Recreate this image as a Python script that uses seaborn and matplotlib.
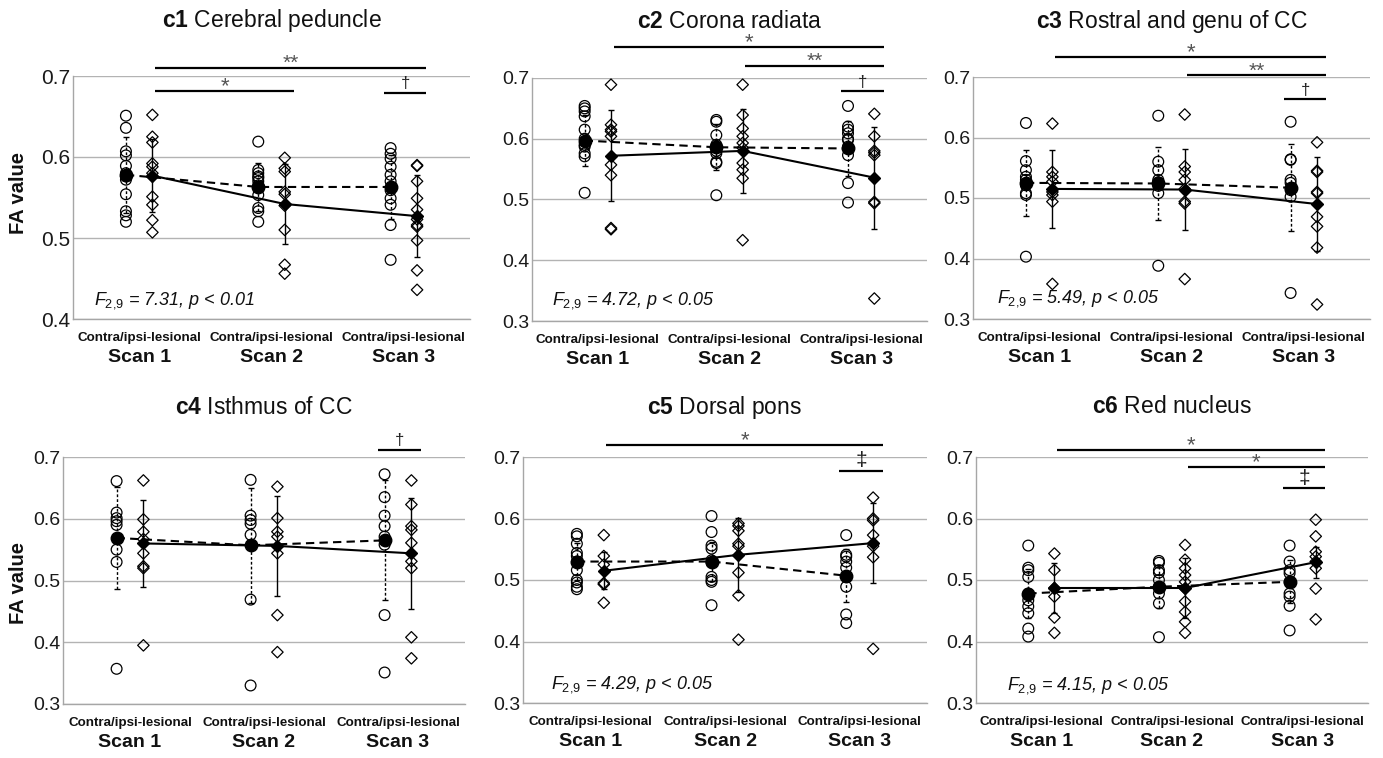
import matplotlib
matplotlib.use("Agg")
import matplotlib.pyplot as plt
import seaborn as sns
import pandas as pd

W, H = 1383, 758

scans = ["Scan 1", "Scan 2", "Scan 3"]
side_text = "Contra/ipsi-lesional"

# ---------------- c1 Cerebral peduncle
c1_contra = [[0.651, 0.636, 0.607, 0.602, 0.589, 0.580, 0.576, 0.572, 0.554, 0.533, 0.528, 0.520],
             [0.619, 0.584, 0.580, 0.576, 0.574, 0.570, 0.565, 0.553, 0.537, 0.533, 0.520],
             [0.611, 0.604, 0.598, 0.588, 0.578, 0.570, 0.559, 0.549, 0.541, 0.516, 0.473]]
c1_ipsi = [[0.652, 0.625, 0.618, 0.592, 0.588, 0.580, 0.576, 0.551, 0.541, 0.522, 0.507],
           [0.599, 0.586, 0.582, 0.557, 0.554, 0.540, 0.510, 0.467, 0.456],
           [0.590, 0.589, 0.570, 0.549, 0.535, 0.523, 0.516, 0.514, 0.497, 0.460, 0.436]]
c1_contra_mean = [0.578, 0.563, 0.563]
c1_contra_sd = [0.047, 0.030, 0.040]
c1_ipsi_mean = [0.577, 0.542, 0.527]
c1_ipsi_sd = [0.045, 0.049, 0.051]
c1_stat = "7.31, p < 0.01"
c1_sig = [((0, "ipsi"), (2, "ipsi"), "**"), ((0, "ipsi"), (1, "ipsi"), "*"), ((2, "contra"), (2, "ipsi"), "\u2020")]

# ---------------- c2 Corona radiata
c2_contra = [[0.654, 0.650, 0.645, 0.637, 0.615, 0.600, 0.590, 0.587, 0.576, 0.571, 0.511],
             [0.631, 0.628, 0.606, 0.590, 0.587, 0.580, 0.576, 0.562, 0.560, 0.507],
             [0.654, 0.620, 0.615, 0.609, 0.600, 0.598, 0.587, 0.573, 0.527, 0.495]]
c2_ipsi = [[0.689, 0.623, 0.615, 0.612, 0.604, 0.557, 0.540, 0.453, 0.451],
           [0.689, 0.639, 0.617, 0.604, 0.593, 0.585, 0.560, 0.549, 0.535, 0.433],
           [0.641, 0.604, 0.580, 0.577, 0.573, 0.496, 0.494, 0.337]]
c2_contra_mean = [0.597, 0.586, 0.584]
c2_contra_sd = [0.042, 0.038, 0.045]
c2_ipsi_mean = [0.572, 0.580, 0.536]
c2_ipsi_sd = [0.075, 0.069, 0.084]
c2_stat = "4.72, p < 0.05"
c2_sig = [((0, "ipsi"), (2, "ipsi"), "*"), ((1, "ipsi"), (2, "ipsi"), "**"), ((2, "contra"), (2, "ipsi"), "\u2020")]

# ---------------- c3 Rostral and genu of CC
c3_contra = [[0.624, 0.561, 0.546, 0.535, 0.530, 0.521, 0.508, 0.505, 0.403],
             [0.636, 0.560, 0.546, 0.530, 0.526, 0.520, 0.508, 0.388],
             [0.626, 0.564, 0.563, 0.530, 0.525, 0.513, 0.502, 0.343]]
c3_ipsi = [[0.623, 0.543, 0.535, 0.527, 0.510, 0.505, 0.494, 0.358],
           [0.638, 0.552, 0.543, 0.530, 0.515, 0.494, 0.491, 0.366],
           [0.592, 0.545, 0.543, 0.510, 0.508, 0.469, 0.453, 0.418, 0.324]]
c3_contra_mean = [0.525, 0.524, 0.517]
c3_contra_sd = [0.055, 0.060, 0.072]
c3_ipsi_mean = [0.515, 0.514, 0.490]
c3_ipsi_sd = [0.065, 0.067, 0.078]
c3_stat = "5.49, p < 0.05"
c3_sig = [((0, "ipsi"), (2, "ipsi"), "*"), ((1, "ipsi"), (2, "ipsi"), "**"), ((2, "contra"), (2, "ipsi"), "\u2020")]

# ---------------- c4 Isthmus of CC
c4_contra = [[0.661, 0.610, 0.601, 0.596, 0.590, 0.550, 0.530, 0.357],
             [0.663, 0.605, 0.598, 0.592, 0.574, 0.469, 0.330],
             [0.672, 0.635, 0.605, 0.588, 0.571, 0.558, 0.444, 0.351]]
c4_ipsi = [[0.662, 0.599, 0.579, 0.567, 0.544, 0.523, 0.520, 0.395],
           [0.652, 0.601, 0.579, 0.571, 0.544, 0.444, 0.384],
           [0.662, 0.623, 0.588, 0.582, 0.561, 0.531, 0.520, 0.408, 0.374]]
c4_contra_mean = [0.569, 0.557, 0.565]
c4_contra_sd = [0.082, 0.093, 0.097]
c4_ipsi_mean = [0.560, 0.556, 0.544]
c4_ipsi_sd = [0.070, 0.081, 0.090]
c4_stat = None
c4_sig = [((2, "contra"), (2, "ipsi"), "\u2020")]

# ---------------- c5 Dorsal pons
c5_contra = [[0.575, 0.571, 0.559, 0.544, 0.539, 0.530, 0.516, 0.500, 0.496, 0.489, 0.485],
             [0.604, 0.578, 0.556, 0.551, 0.532, 0.528, 0.505, 0.500, 0.497, 0.459],
             [0.573, 0.541, 0.538, 0.530, 0.520, 0.489, 0.444, 0.430]]
c5_ipsi = [[0.573, 0.539, 0.525, 0.495, 0.493, 0.463],
           [0.592, 0.588, 0.580, 0.559, 0.555, 0.512, 0.475, 0.403],
           [0.634, 0.600, 0.597, 0.573, 0.555, 0.537, 0.388]]
c5_contra_mean = [0.530, 0.530, 0.507]
c5_contra_sd = [0.030, 0.032, 0.043]
c5_ipsi_mean = [0.515, 0.541, 0.560]
c5_ipsi_sd = [0.030, 0.060, 0.065]
c5_stat = "4.29, p < 0.05"
c5_sig = [((0, "ipsi"), (2, "ipsi"), "*"), ((2, "contra"), (2, "ipsi"), "\u2021")]

# ---------------- c6 Red nucleus
c6_contra = [[0.556, 0.520, 0.516, 0.505, 0.478, 0.467, 0.457, 0.446, 0.421, 0.408],
             [0.531, 0.528, 0.516, 0.512, 0.500, 0.489, 0.478, 0.462, 0.407],
             [0.556, 0.530, 0.516, 0.511, 0.497, 0.478, 0.473, 0.458, 0.418]]
c6_ipsi = [[0.543, 0.516, 0.487, 0.473, 0.439, 0.414],
           [0.557, 0.533, 0.519, 0.508, 0.497, 0.486, 0.465, 0.448, 0.432, 0.414],
           [0.598, 0.571, 0.546, 0.538, 0.530, 0.519, 0.486, 0.436]]
c6_contra_mean = [0.478, 0.489, 0.497]
c6_contra_sd = [0.040, 0.035, 0.035]
c6_ipsi_mean = [0.487, 0.487, 0.529]
c6_ipsi_sd = [0.040, 0.048, 0.025]
c6_stat = "4.15, p < 0.05"
c6_sig = [((0, "ipsi"), (2, "ipsi"), "*"), ((1, "ipsi"), (2, "ipsi"), "*"), ((2, "contra"), (2, "ipsi"), "\u2021")]

panels = [
    dict(tag="c1", name="Cerebral peduncle", contra=c1_contra, ipsi=c1_ipsi,
         contra_mean=c1_contra_mean, contra_sd=c1_contra_sd, ipsi_mean=c1_ipsi_mean, ipsi_sd=c1_ipsi_sd,
         stat=c1_stat, sig=c1_sig),
    dict(tag="c2", name="Corona radiata", contra=c2_contra, ipsi=c2_ipsi,
         contra_mean=c2_contra_mean, contra_sd=c2_contra_sd, ipsi_mean=c2_ipsi_mean, ipsi_sd=c2_ipsi_sd,
         stat=c2_stat, sig=c2_sig),
    dict(tag="c3", name="Rostral and genu of CC", contra=c3_contra, ipsi=c3_ipsi,
         contra_mean=c3_contra_mean, contra_sd=c3_contra_sd, ipsi_mean=c3_ipsi_mean, ipsi_sd=c3_ipsi_sd,
         stat=c3_stat, sig=c3_sig),
    dict(tag="c4", name="Isthmus of CC", contra=c4_contra, ipsi=c4_ipsi,
         contra_mean=c4_contra_mean, contra_sd=c4_contra_sd, ipsi_mean=c4_ipsi_mean, ipsi_sd=c4_ipsi_sd,
         stat=c4_stat, sig=c4_sig),
    dict(tag="c5", name="Dorsal pons", contra=c5_contra, ipsi=c5_ipsi,
         contra_mean=c5_contra_mean, contra_sd=c5_contra_sd, ipsi_mean=c5_ipsi_mean, ipsi_sd=c5_ipsi_sd,
         stat=c5_stat, sig=c5_sig),
    dict(tag="c6", name="Red nucleus", contra=c6_contra, ipsi=c6_ipsi,
         contra_mean=c6_contra_mean, contra_sd=c6_contra_sd, ipsi_mean=c6_ipsi_mean, ipsi_sd=c6_ipsi_sd,
         stat=c6_stat, sig=c6_sig),
]

# layout: axes box in pixels (left, right, top, bottom), y floor, tick size,
# heights of the significance bars, position of the F text, title offset
layouts = [
    dict(box=(73, 470, 76, 319), ylo=0.4, tfs=15, sig_y=[0.710, 0.682, 0.679], stat_xy=(-0.34, 0.423), tdy=35),
    dict(box=(532, 927, 78, 321), ylo=0.3, tfs=14, sig_y=[0.751, 0.720, 0.678], stat_xy=(-0.35, 0.334), tdy=36),
    dict(box=(973, 1370, 77, 319), ylo=0.3, tfs=14, sig_y=[0.733, 0.703, 0.663], stat_xy=(-0.32, 0.333), tdy=35),
    dict(box=(63, 465, 457, 704), ylo=0.3, tfs=14, sig_y=[0.712], stat_xy=None, tdy=31),
    dict(box=(523, 927, 457, 703), ylo=0.3, tfs=14, sig_y=[0.720, 0.677], stat_xy=(-0.29, 0.330), tdy=31),
    dict(box=(976, 1368, 457, 703), ylo=0.3, tfs=14, sig_y=[0.711, 0.684, 0.649], stat_xy=(-0.26, 0.329), tdy=32),
]

sns.set_theme(style="white")
plt.rcParams["font.family"] = ["Liberation Sans", "DejaVu Sans"]
plt.rcParams["mathtext.fontset"] = "custom"
plt.rcParams["mathtext.rm"] = "Liberation Sans"
plt.rcParams["mathtext.it"] = "Liberation Sans:italic"
plt.rcParams["mathtext.bf"] = "Liberation Sans:bold"

OFF = {"contra": -0.1, "ipsi": 0.1}


def xpos(scan, side):
    return scan + OFF[side]


fig = plt.figure(figsize=(W / 100, H / 100), dpi=100)


def draw_panel(p, lay):
    l, r, t, b = lay["box"]
    ax = fig.add_axes([l / W, 1 - b / H, (r - l) / W, (b - t) / H])

    rows = []
    for side in ("contra", "ipsi"):
        for i, vals in enumerate(p[side]):
            for v in vals:
                rows.append({"side": side, "x": xpos(i, side), "FA": v})
    df = pd.DataFrame(rows)

    # individual subjects
    for side, mk, s in (("contra", "o", 60), ("ipsi", "D", 34)):
        sns.scatterplot(data=df[df.side == side], x="x", y="FA", marker=mk, s=s,
                        facecolor="none", edgecolor="black", linewidth=0.9,
                        ax=ax, legend=False, zorder=3)

    # group means +/- SD
    for side, ls, mk, ms in (("contra", (0, (4, 2.5)), "o", 9), ("ipsi", "-", "D", 6.4)):
        xs = [xpos(i, side) for i in range(3)]
        m = p[side + "_mean"]
        sd = p[side + "_sd"]
        ax.plot(xs, m, color="black", lw=1.5, ls=ls, zorder=4)
        eb = ax.errorbar(xs, m, yerr=sd, fmt="none", ecolor="black", elinewidth=1,
                         capsize=2.5, capthick=1, zorder=4)
        if side == "contra":
            eb[2][0].set_linestyle((0, (2, 1.5)))
        ax.plot(xs, m, ls="none", marker=mk, ms=ms, color="black", zorder=5)

    ax.set_xlim(-0.5, 2.5)
    ax.set_ylim(lay["ylo"], 0.7)
    n = int(round((0.7 - lay["ylo"]) / 0.1)) + 1
    ticks = [round(lay["ylo"] + 0.1 * k, 1) for k in range(n)]
    ax.set_yticks(ticks)
    ax.set_yticklabels([f"{v:.1f}" for v in ticks], fontsize=lay["tfs"], color="#1a1a1a")
    ax.set_xticks([])
    ax.set_xlabel("")
    ax.set_ylabel("")
    ax.tick_params(axis="y", length=0, pad=2)
    ax.grid(axis="y", color="#b3b3b3", lw=1)
    ax.set_axisbelow(True)
    for s in ("top", "right"):
        ax.spines[s].set_visible(False)
    for s in ("left", "bottom"):
        ax.spines[s].set_color("#a6a6a6")
        ax.spines[s].set_linewidth(1)

    for i, sc in enumerate(scans):
        ax.annotate(side_text, (i, 0), xycoords=("data", "axes fraction"), xytext=(0, -14),
                    textcoords="offset points", ha="center", va="center",
                    fontsize=9.6, fontweight="bold", color="#111111")
        ax.annotate(sc, (i, 0), xycoords=("data", "axes fraction"), xytext=(0, -28),
                    textcoords="offset points", ha="center", va="center",
                    fontsize=14, fontweight="bold", color="#111111")

    ax.annotate(rf"$\mathbf{{{p['tag']}}}$ {p['name']}", (0.5, 1), xycoords="axes fraction",
                xytext=(0, lay["tdy"]), textcoords="offset points", ha="center", va="baseline",
                fontsize=16.5, color="#111111")

    if p["stat"] is not None:
        ax.text(lay["stat_xy"][0], lay["stat_xy"][1], r"$\mathit{F}_{\mathit{2,\!9}}$ = " + p["stat"],
                fontsize=13, style="italic", ha="left", va="center", color="#111111")

    sym_dy = {"*": -1, "**": -1, "\u2020": 3.5, "\u2021": 3.5}
    sym_fs = {"*": 16, "**": 15, "\u2020": 12, "\u2021": 15}
    sym_col = {"*": "#555555", "**": "#555555", "\u2020": "#222222", "\u2021": "#222222"}
    for (a, c, lab), y in zip(p["sig"], lay["sig_y"]):
        x0 = xpos(*a) + (0.02 if a[1] == "ipsi" else -0.05)
        x1 = xpos(*c) + 0.07
        ax.plot([x0, x1], [y, y], color="black", lw=1.6, clip_on=False, solid_capstyle="butt")
        ax.annotate(lab, ((x0 + x1) / 2, y), xytext=(0, sym_dy[lab]), textcoords="offset points",
                    ha="center", va="baseline", fontsize=sym_fs[lab], color=sym_col[lab],
                    annotation_clip=False)
    return ax


for p, lay in zip(panels, layouts):
    draw_panel(p, lay)

fig.text(19 / W, 1 - 193 / H, "FA value", rotation=90, ha="center", va="center",
         fontsize=14.5, fontweight="bold", color="#111111")
fig.text(19 / W, 1 - 583 / H, "FA value", rotation=90, ha="center", va="center",
         fontsize=14.5, fontweight="bold", color="#111111")

fig.savefig("out.png", dpi=100)
